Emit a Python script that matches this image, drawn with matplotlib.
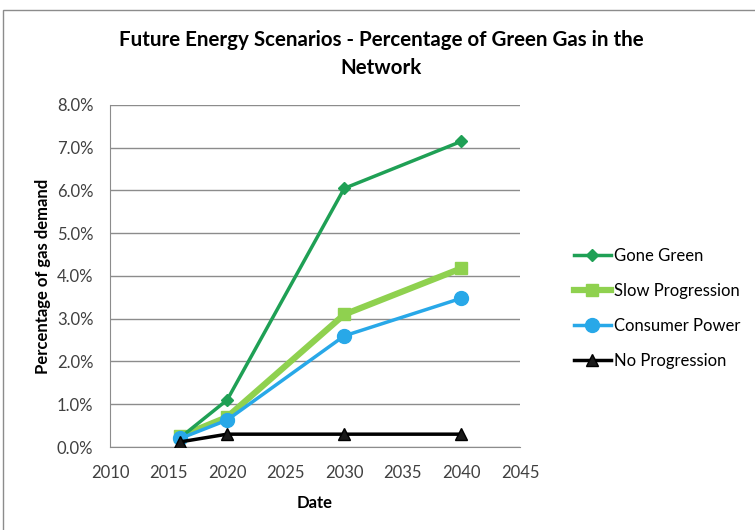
import matplotlib
matplotlib.use('Agg')
import matplotlib.pyplot as plt
from matplotlib.patches import Rectangle
from matplotlib.ticker import FuncFormatter

years = [2016, 2020, 2030, 2040]
gone_green = [0.22, 1.10, 6.05, 7.15]
slow_progression = [0.25, 0.70, 3.10, 4.18]
consumer_power = [0.20, 0.63, 2.60, 3.48]
no_progression = [0.12, 0.30, 0.30, 0.30]

plt.rcParams['font.family'] = ['Lato', 'DejaVu Sans']

fig = plt.figure(figsize=(7.55, 5.30), dpi=100)
ax = fig.add_axes([0.1457, 0.1566, 0.543, 0.6453])

# chart area border (partly cut off on the right/bottom)
fig.patches.append(Rectangle((3 / 755, -0.05), 1.2, 1 - 10 / 530 + 0.05,
                             transform=fig.transFigure, fill=False,
                             edgecolor='#8c8c8c', linewidth=1.0))

ax.plot(years, gone_green, color='#1fa055', lw=2.5, marker='D', ms=6,
        label='Gone Green', zorder=4)
ax.plot(years, slow_progression, color='#8fd14f', lw=4.5, marker='s', ms=9,
        label='Slow Progression', zorder=3)
ax.plot(years, consumer_power, color='#28a8e8', lw=2.5, marker='o', ms=10,
        label='Consumer Power', zorder=5)
ax.plot(years, no_progression, color='black', lw=2.5, marker='^', ms=8,
        markerfacecolor='#1a1a1a', label='No Progression', zorder=6)

ax.set_xlim(2010, 2045)
ax.set_ylim(0, 8)
ax.set_xticks(range(2010, 2046, 5))
ax.set_yticks(range(0, 9))
ax.yaxis.set_major_formatter(FuncFormatter(lambda v, p: '%.1f%%' % v))
ax.tick_params(length=0, labelsize=12, colors='#404040')
ax.tick_params(axis='x', pad=13)
ax.tick_params(axis='y', pad=12)
ax.grid(axis='y', color='#8c8c8c', lw=1)
ax.set_axisbelow(True)
for s in ['top', 'right']:
    ax.spines[s].set_visible(False)
for s in ['left', 'bottom']:
    ax.spines[s].set_color('#8c8c8c')

ax.set_xlabel('Date', fontsize=12, fontweight='bold', labelpad=10)
ax.set_ylabel('Percentage of gas demand', fontsize=12, fontweight='bold',
              labelpad=4)

fig.text(0.505, 0.899, 'Future Energy Scenarios - Percentage of Green Gas in the\nNetwork',
         ha='center', va='center', fontsize=14.8, fontweight='bold',
         linespacing=1.5)

ax.legend(loc='center left', bbox_to_anchor=(1.095, 0.405), frameon=False,
          fontsize=12, labelspacing=1.15, handlelength=2.2, handletextpad=0.2)

fig.savefig('out.png', dpi=100)
